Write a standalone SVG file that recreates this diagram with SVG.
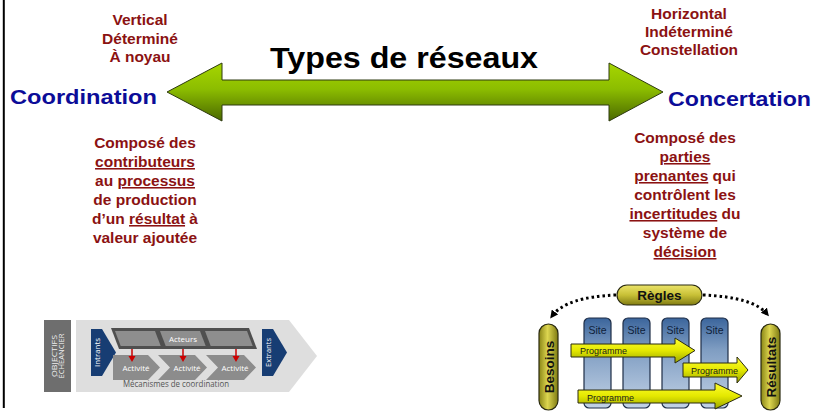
<svg xmlns="http://www.w3.org/2000/svg" width="814" height="412" viewBox="0 0 814 412">
<defs>
<style>
.red{font-family:"Liberation Sans",Arial,sans-serif;font-weight:bold;font-size:15.5px;fill:#8b1212;text-anchor:middle}
.u{text-decoration:underline}
.blue{font-family:"Liberation Sans",Arial,sans-serif;font-weight:bold;font-size:21px;fill:#0c0c98}
.title{font-family:"Liberation Sans",Arial,sans-serif;font-weight:bold;font-size:30px;fill:#000;text-anchor:middle}
.os{font-family:"Open Sans","Liberation Sans",sans-serif;text-anchor:middle}
.wt{fill:#ffffff;font-size:8px}
.prog{font-family:"Liberation Sans",Arial,sans-serif;font-size:9px;fill:#1a1a1a}
.pill{font-family:"Liberation Sans",Arial,sans-serif;font-weight:bold;font-size:13.5px;fill:#111;text-anchor:middle}
.site{font-family:"Liberation Sans",Arial,sans-serif;font-size:10.5px;fill:#0f1e3a;text-anchor:middle}
.dots{fill:none;stroke:#000;stroke-width:3;stroke-dasharray:2.5 3}
</style>
<linearGradient id="gArrow" x1="0" y1="0" x2="0" y2="1">
<stop offset="0" stop-color="#a6d600"/>
<stop offset="0.45" stop-color="#8cbd00"/>
<stop offset="1" stop-color="#4a6800"/>
</linearGradient>
<linearGradient id="gSite" x1="0" y1="0" x2="0" y2="1">
<stop offset="0" stop-color="#3b659c"/>
<stop offset="0.35" stop-color="#7f9dc2"/>
<stop offset="1" stop-color="#c2d2e6"/>
</linearGradient>
<linearGradient id="gProg" x1="0" y1="0" x2="0" y2="1">
<stop offset="0" stop-color="#ffff30"/>
<stop offset="0.5" stop-color="#e4e800"/>
<stop offset="1" stop-color="#9aa600"/>
</linearGradient>
<linearGradient id="gPillV" x1="0" y1="0" x2="1" y2="0">
<stop offset="0" stop-color="#8a8616"/>
<stop offset="0.45" stop-color="#ddd650"/>
<stop offset="1" stop-color="#7e7a12"/>
</linearGradient>
<linearGradient id="gPillH" x1="0" y1="0" x2="0" y2="1">
<stop offset="0" stop-color="#ece46a"/>
<stop offset="0.5" stop-color="#c8c036"/>
<stop offset="1" stop-color="#817c12"/>
</linearGradient>
<marker id="ah" markerWidth="8" markerHeight="8" refX="5" refY="4" orient="auto" markerUnits="userSpaceOnUse">
<path d="M0,0 L8,4 L0,8 Z" fill="#000"/>
</marker>
</defs>
<rect x="0" y="0" width="814" height="412" fill="#ffffff"/>
<line x1="3.8" y1="0" x2="3.8" y2="408" stroke="#000" stroke-width="2"/>

<g id="types">
<polygon points="167,92 222,63 222,80 609,80 609,63 663,92 609,121 609,105 222,105 222,121" fill="url(#gArrow)" stroke="#2e3a10" stroke-width="1"/>
<text class="title" x="404" y="68" textLength="268" lengthAdjust="spacingAndGlyphs">Types de réseaux</text>
</g>

<g id="coordination">
<text class="blue" x="10" y="104" textLength="147" lengthAdjust="spacingAndGlyphs">Coordination</text>
<text class="red" x="140" y="25">Vertical</text>
<text class="red" x="140" y="44">Déterminé</text>
<text class="red" x="140" y="62">À noyau</text>
<text class="red" x="145" y="148">Composé des</text>
<text class="red" x="145" y="167"><tspan class="u">contributeurs</tspan></text>
<text class="red" x="145" y="186">au <tspan class="u">processus</tspan></text>
<text class="red" x="145" y="205">de production</text>
<text class="red" x="145" y="224">d’un <tspan class="u">résultat</tspan> à</text>
<text class="red" x="145" y="243">valeur ajoutée</text>
</g>

<g id="concertation">
<text class="blue" x="668" y="106" textLength="143" lengthAdjust="spacingAndGlyphs">Concertation</text>
<text class="red" x="689" y="19">Horizontal</text>
<text class="red" x="689" y="37">Indéterminé</text>
<text class="red" x="689" y="55">Constellation</text>
<text class="red" x="685" y="143">Composé des</text>
<text class="red" x="685" y="162"><tspan class="u">parties</tspan></text>
<text class="red" x="685" y="181"><tspan class="u">prenantes</tspan> qui</text>
<text class="red" x="685" y="200">contrôlent les</text>
<text class="red" x="685" y="219"><tspan class="u">incertitudes</tspan> du</text>
<text class="red" x="685" y="238">système de</text>
<text class="red" x="685" y="257"><tspan class="u">décision</tspan></text>
</g>

<g id="processus">
<rect x="44" y="320" width="27" height="72" fill="#6e6e6e"/>
<text class="os" transform="translate(57,356) rotate(-90)" font-size="6.5" fill="#eeeeee" textLength="42" lengthAdjust="spacingAndGlyphs">OBJECTIFS</text>
<text class="os" transform="translate(64,356) rotate(-90)" font-size="6.5" fill="#eeeeee" textLength="45" lengthAdjust="spacingAndGlyphs">ÉCHÉANCIER</text>
<polygon points="76,320 289,320 317,356 289,392 76,392" fill="#dedede"/>
<polygon points="91,329 102,329 116,352.5 102,376 91,376" fill="#173d73"/>
<text class="os wt" transform="translate(100,352.5) rotate(-90)" textLength="29" lengthAdjust="spacingAndGlyphs">Intrants</text>
<polygon points="262,329 273,329 287,352.5 273,376 262,376" fill="#173d73"/>
<text class="os wt" transform="translate(271,352.5) rotate(-90)" textLength="29" lengthAdjust="spacingAndGlyphs">Extrants</text>
<polygon points="111,328 249,328 257,349 119,349" fill="#4f4f4f"/>
<polygon points="115,331 155,331 160.7,346 120.7,346" fill="#8e8e8e"/>
<polygon points="160,331 200,331 205.7,346 165.7,346" fill="#8e8e8e"/>
<polygon points="205,331 247,331 252.7,346 210.7,346" fill="#8e8e8e"/>
<text class="os wt" x="183" y="342" font-size="8.5">Acteurs</text>
<polygon points="113,355 148,355 160,367.5 148,380 113,380" fill="#8c8c8c"/>
<polygon points="158,355 195,355 207,367.5 195,380 158,380 170,367.5" fill="#8c8c8c"/>
<polygon points="206,355 244,355 256,367.5 244,380 206,380 218,367.5" fill="#8c8c8c"/>
<text class="os wt" x="136" y="370.5" font-size="8.5">Activité</text>
<text class="os wt" x="187" y="370.5" font-size="8.5">Activité</text>
<text class="os wt" x="235" y="370.5" font-size="8.5">Activité</text>
<g stroke="#cc0000" stroke-width="1.5" fill="#cc0000">
<line x1="132" y1="349" x2="132" y2="357"/>
<polygon points="128.5,356 135.5,356 132,362" stroke="none"/>
<line x1="183" y1="349" x2="183" y2="357"/>
<polygon points="179.5,356 186.5,356 183,362" stroke="none"/>
<line x1="236" y1="349" x2="236" y2="357"/>
<polygon points="232.5,356 239.5,356 236,362" stroke="none"/>
</g>
<text class="os" x="176" y="387" font-size="8.5" fill="#555555" textLength="106" lengthAdjust="spacingAndGlyphs">Mécanismes de coordination</text>
</g>

<g id="connectors">
<path class="dots" d="M616,295 Q566,297 552,316" marker-end="url(#ah)"/>
<path class="dots" d="M703,295 Q753,297 767,314" marker-end="url(#ah)"/>
</g>

<g id="regles">
<rect x="617" y="285" width="85" height="20" rx="10" fill="url(#gPillH)" stroke="#2a2a10" stroke-width="1.2"/>
<text class="pill" x="659.5" y="300">Règles</text>
</g>

<g id="besoins">
<rect x="539" y="324" width="19" height="86" rx="9.5" fill="url(#gPillV)" stroke="#2a2a10" stroke-width="1.2"/>
<text class="pill" transform="translate(553.5,367) rotate(-90)">Besoins</text>
</g>

<g id="resultats">
<rect x="761" y="324" width="19" height="86" rx="9.5" fill="url(#gPillV)" stroke="#2a2a10" stroke-width="1.2"/>
<text class="pill" transform="translate(775.5,367) rotate(-90)">Résultats</text>
</g>

<g id="sites">
<rect x="584" y="318" width="27" height="90" rx="5" fill="url(#gSite)" stroke="#1e2d46" stroke-width="1.2"/>
<rect x="623" y="318" width="27" height="90" rx="5" fill="url(#gSite)" stroke="#1e2d46" stroke-width="1.2"/>
<rect x="662" y="318" width="27" height="90" rx="5" fill="url(#gSite)" stroke="#1e2d46" stroke-width="1.2"/>
<rect x="701" y="318" width="27" height="90" rx="5" fill="url(#gSite)" stroke="#1e2d46" stroke-width="1.2"/>
<text class="site" x="597.5" y="334">Site</text>
<text class="site" x="636.5" y="334">Site</text>
<text class="site" x="675.5" y="334">Site</text>
<text class="site" x="714.5" y="334">Site</text>
</g>

<g id="programmes">
<polygon points="571,344 675,344 675,338 695,350.5 675,363 675,357 571,357" fill="url(#gProg)" stroke="#2a2a10" stroke-width="1"/>
<text class="prog" x="580" y="354">Programme</text>
<polygon points="683,363 737,363 737,357 748,370 737,383 737,377 683,377" fill="url(#gProg)" stroke="#2a2a10" stroke-width="1"/>
<text class="prog" x="691" y="374">Programme</text>
<polygon points="578,390 715,390 715,383 742,396 715,409 715,403 578,403" fill="url(#gProg)" stroke="#2a2a10" stroke-width="1"/>
<text class="prog" x="587" y="400.5">Programme</text>
</g>
</svg>
